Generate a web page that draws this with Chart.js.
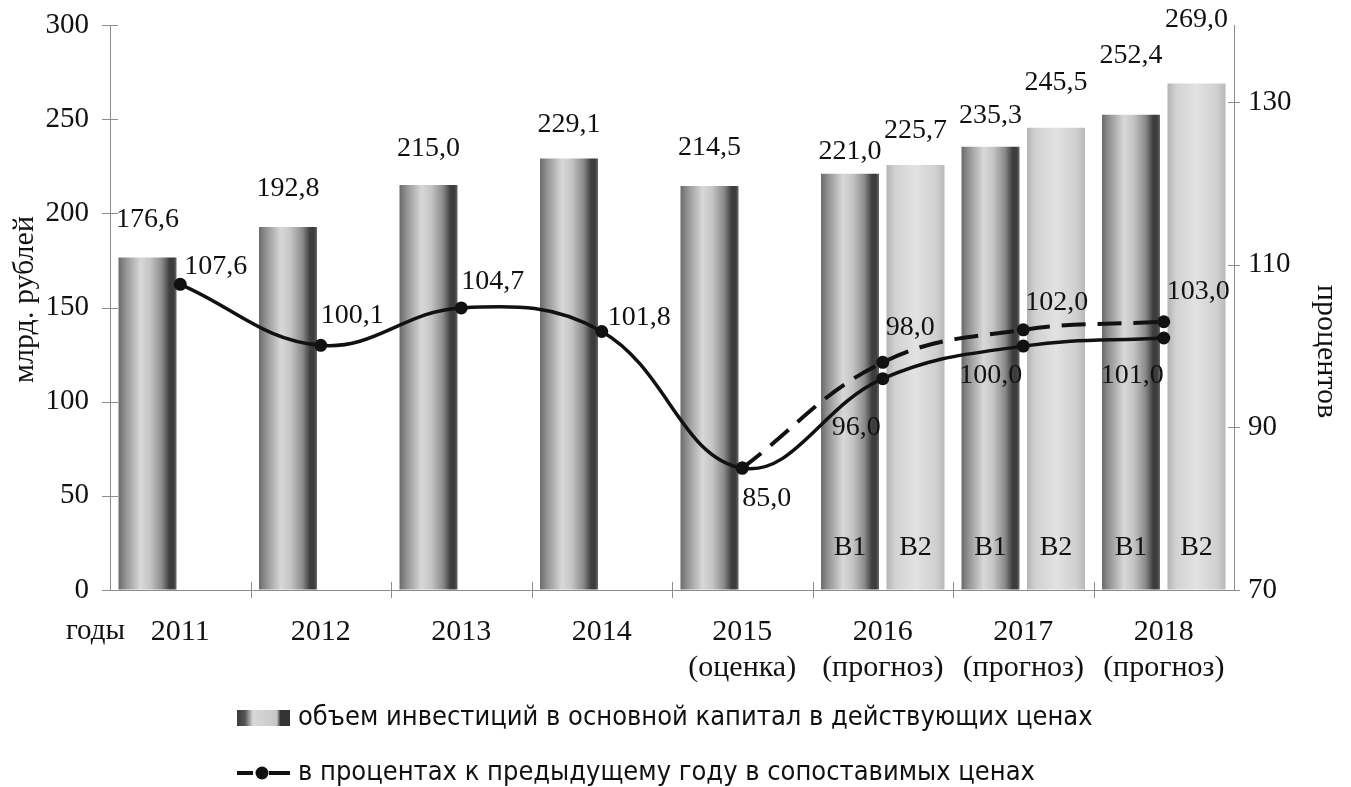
<!DOCTYPE html>
<html lang="ru">
<head>
<meta charset="utf-8">
<title>Инвестиции в основной капитал</title>
<script src="https://cdn.jsdelivr.net/npm/chart.js@4.4.1/dist/chart.umd.min.js"></script>
<style>
  html, body { margin: 0; padding: 0; background: #fff; }
  #wrap { width: 1351px; height: 787px; }
</style>
</head>
<body>
<div id="wrap"><canvas id="invest-chart" width="1351" height="787"></canvas></div>
<script>
// chart data
const years = [["2011"], ["2012"], ["2013"], ["2014"], ["2015", "(оценка)"],
  ["2016", "(прогноз)"], ["2017", "(прогноз)"], ["2018", "(прогноз)"]];
const volumeB1 = [176.6, 192.8, 215.0, 229.1, 214.5, 221.0, 235.3, 252.4];
const volumeB2 = [null, null, null, null, null, 225.7, 245.5, 269.0];
const pctB1 = [107.6, 100.1, 104.7, 101.8, 85.0, 96.0, 100.0, 101.0];
const pctB2 = [null, null, null, null, 85.0, 98.0, 102.0, 103.0];
const variantTags = ["B1", "B2"];
const leftTicks = [0, 50, 100, 150, 200, 250, 300];
const rightTicks = [70, 90, 110, 130];

const SERIF = '"Liberation Serif", "Times New Roman", serif';
const NARROW = '"Liberation Sans Narrow", "DejaVu Sans Condensed", "Arial Narrow", sans-serif';
const INK = "#111";
const AXIS = "#8c8c8c";
const CAT_PCT = 0.932, BAR_PCT = 0.886;

const darkStops = [[0, "#6a6a6a"], [0.12, "#929292"], [0.38, "#d8d8d8"], [0.55, "#c4c4c4"],
  [0.75, "#8a8a8a"], [0.88, "#3e3e3e"], [0.95, "#3c3c3c"], [1, "#6a6a6a"]];
const lightStops = [[0, "#b4b4b4"], [0.15, "#d2d2d2"], [0.5, "#e2e2e2"], [0.85, "#d0d0d0"], [1, "#b8b8b8"]];

const fmt = v => v.toFixed(1).replace(".", ",");

// cylinder-like horizontal gradient, built on the bar element once it has been laid out
function cylinder(stops) {
  return c => {
    if (c.type !== "data") return stops[2][1];
    const el = c.chart.getDatasetMeta(c.datasetIndex).data[c.dataIndex];
    if (!el || el.x == null || !el.width) return stops[2][1];
    const g = c.chart.ctx.createLinearGradient(el.x - el.width / 2, 0, el.x + el.width / 2, 0);
    stops.forEach(([o, col]) => g.addColorStop(o, col));
    return g;
  };
}

// label placement (relative to the point / bar top)
const barLift = [[38, 38, 36, 34, 38, 22, 31, 59], [0, 0, 0, 0, 0, 34, 45, 64]];
const pctPlace = [
  [[4, -18, "left"], [0, -30, "left"], [0, -26, "left"], [6, -14, "left"],
   [0, 31, "left"], [-2, 49, "right"], [-1, 30, "right"], [0, 38, "right"]],
  [null, null, null, null, null, [3, -35, "left"], [2, -27, "left"], [3, -30, "left"]]
];

const decor = {
  id: "decor",
  afterDraw(chart) {
    const ctx = chart.ctx, area = chart.chartArea;
    const xs = chart.scales.x, y = chart.scales.y, y1 = chart.scales.y1;
    ctx.save();

    // tick marks crossing the axes
    ctx.strokeStyle = AXIS;
    ctx.lineWidth = 1;
    ctx.beginPath();
    leftTicks.forEach(t => {
      const py = Math.round(y.getPixelForValue(t)) + 0.5;
      ctx.moveTo(area.left - 8, py); ctx.lineTo(area.left + 8, py);
    });
    rightTicks.forEach(t => {
      const py = Math.round(y1.getPixelForValue(t)) + 0.5;
      ctx.moveTo(area.right - 6, py); ctx.lineTo(area.right + 6, py);
    });
    const catW = xs.width / years.length;
    for (let i = 1; i < years.length; i++) {
      const px = Math.round(xs.left + catW * i) + 0.5;
      ctx.moveTo(px, area.bottom - 8); ctx.lineTo(px, area.bottom + 8);
    }
    ctx.stroke();

    ctx.fillStyle = INK;
    ctx.font = "28px " + SERIF;
    ctx.textBaseline = "middle";

    // bar values and variant tags
    [0, 1].forEach(di => {
      const meta = chart.getDatasetMeta(di);
      meta.data.forEach((bar, i) => {
        const v = chart.data.datasets[di].data[i];
        if (v == null) return;
        ctx.textAlign = "center";
        ctx.fillText(fmt(v), bar.x, bar.y - barLift[di][i]);
        if (volumeB2[i] != null) ctx.fillText(variantTags[di], bar.x, area.bottom - 42);
      });
    });

    // percentage labels
    [2, 3].forEach((di, k) => {
      const meta = chart.getDatasetMeta(di);
      meta.data.forEach((pt, i) => {
        const v = chart.data.datasets[di].data[i];
        const p = pctPlace[k][i];
        if (v == null || !p) return;
        ctx.textAlign = p[2];
        ctx.fillText(fmt(v), pt.x + p[0], pt.y + p[1]);
      });
    });

    // axis titles
    ctx.font = "30px " + SERIF;
    ctx.textAlign = "center";
    ctx.save();
    ctx.translate(area.left - 85, (area.top + area.bottom) / 2 - 8);
    ctx.rotate(-Math.PI / 2);
    ctx.fillText("млрд. рублей", 0, 0);
    ctx.restore();
    ctx.save();
    ctx.translate(area.right + 92, (area.top + area.bottom) / 2 + 44);
    ctx.rotate(Math.PI / 2);
    ctx.fillText("процентов", 0, 0);
    ctx.restore();
    ctx.font = "29px " + SERIF;
    ctx.textAlign = "right";
    ctx.fillText("годы", area.left + 15, area.bottom + 41);

    // legend
    const lx = 237, ly1 = 718, ly2 = 773;
    const g = ctx.createLinearGradient(lx, 0, lx + 53, 0);
    [[0, "#3a3a3a"], [0.15, "#555"], [0.3, "#d8d8d8"], [0.75, "#c8c8c8"], [0.82, "#333"], [1, "#333"]]
      .forEach(([o, col]) => g.addColorStop(o, col));
    ctx.fillStyle = g;
    ctx.fillRect(lx, ly1 - 8, 53, 16);

    ctx.strokeStyle = INK;
    ctx.lineWidth = 4;
    ctx.beginPath();
    ctx.moveTo(lx, ly2); ctx.lineTo(lx + 16, ly2);
    ctx.moveTo(lx + 32, ly2); ctx.lineTo(lx + 53, ly2);
    ctx.stroke();
    ctx.fillStyle = INK;
    ctx.beginPath();
    ctx.arc(lx + 25, ly2, 6.5, 0, Math.PI * 2);
    ctx.fill();

    ctx.textAlign = "left";
    ctx.font = "27px " + NARROW;
    ctx.fillText("объем инвестиций в основной капитал в действующих ценах", lx + 61, ly1);
    ctx.fillText("в процентах к предыдущему году в сопоставимых ценах", lx + 61, ly2);
    ctx.restore();
  }
};

// invisible tick marks keep the labels away from the axis without adding top padding
const hiddenTicks = len => ({ display: true, drawOnChartArea: false, drawTicks: true, tickLength: len, color: "rgba(0,0,0,0)" });

const chart = new Chart(document.getElementById("invest-chart"), {
  type: "bar",
  data: {
    labels: years,
    datasets: [
      { label: "B1", data: volumeB1, backgroundColor: cylinder(darkStops), yAxisID: "y", order: 2,
        categoryPercentage: CAT_PCT, barPercentage: BAR_PCT },
      { label: "B2", data: volumeB2, backgroundColor: cylinder(lightStops), yAxisID: "y", order: 2,
        categoryPercentage: CAT_PCT, barPercentage: BAR_PCT },
      { type: "line", label: "B1 %", data: pctB1, yAxisID: "y1", order: 0,
        borderColor: INK, borderWidth: 3.5, tension: 0.4,
        pointRadius: 6.5, pointBackgroundColor: INK, pointBorderWidth: 0 },
      { type: "line", label: "B2 %", data: pctB2, yAxisID: "y1", order: 1,
        borderColor: INK, borderWidth: 4, borderDash: [24, 12], tension: 0.4,
        pointRadius: 6.5, pointBackgroundColor: INK, pointBorderWidth: 0 }
    ]
  },
  options: {
    responsive: false,
    animation: false,
    layout: { padding: { top: 25, left: 0, right: 0, bottom: 0 } },
    plugins: { legend: { display: false }, tooltip: { enabled: false } },
    scales: {
      x: {
        grid: { display: false, drawTicks: false },
        border: { color: AXIS },
        ticks: { color: INK, font: { family: SERIF, size: 30, lineHeight: 1.2 }, padding: 24, maxRotation: 0, autoSkip: false },
        afterFit: s => { s.height = 197; }
      },
      y: {
        position: "left", min: 0, max: 300,
        grid: hiddenTicks(19),
        border: { color: AXIS },
        ticks: { stepSize: 50, color: INK, font: { family: SERIF, size: 29 }, padding: 2 },
        afterFit: s => { s.width = 110; }
      },
      y1: {
        position: "right", min: 70, max: 139.5,
        grid: hiddenTicks(12),
        border: { color: AXIS },
        afterBuildTicks: s => { s.ticks = rightTicks.map(v => ({ value: v })); },
        ticks: { color: INK, font: { family: SERIF, size: 29 }, padding: 2 },
        afterFit: s => { s.width = 117; }
      }
    }
  },
  plugins: [decor]
});
// second pass so the bar gradients can use the laid-out bar positions
chart.update("none");
</script>
</body>
</html>
